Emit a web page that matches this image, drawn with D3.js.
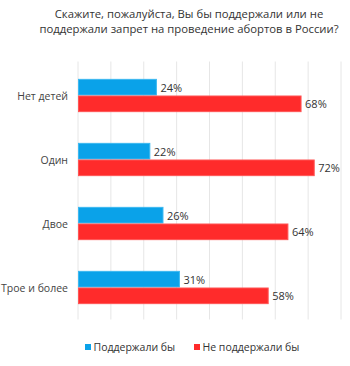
<!DOCTYPE html>
<html>
<head>
<meta charset="utf-8">
<script src="https://cdn.jsdelivr.net/npm/d3@7"></script>
<style>
  html, body { margin: 0; padding: 0; background: #fff; }
  svg { display: block; font-family: "Open Sans", "Noto Sans", sans-serif; }
</style>
</head>
<body>
<svg id="chart" width="350" height="366"></svg>
<script>
const titleLines = [
  "Скажите, пожалуйста, Вы бы поддержали или не",
  "поддержали запрет на проведение абортов в России?"
];
const categories = ["Нет детей", "Один", "Двое", "Трое и более"];
const seriesNames = ["Поддержали бы", "Не поддержали бы"];
const support = [24, 22, 26, 31];
const oppose = [68, 72, 64, 58];
const colors = ["#0aa2e9", "#ff2b2b"];
const strokes = ["#3cb8f0", "#ff5555"];
const gridTicks = [0, 10, 20, 30, 40, 50, 60, 70, 80];

const svg = d3.select("#chart");
const margin = { top: 63.5, left: 78, right: 9, bottom: 46.5 };
const W = 350, H = 366;

const x = d3.scaleLinear().domain([0, 80]).range([margin.left, W - margin.right]);
const y = d3.scaleBand().domain(categories).range([margin.top, H - margin.bottom]).paddingInner(0.48).paddingOuter(0.24);
const sub = d3.scaleBand().domain(seriesNames).range([0, y.bandwidth()]);

// Title
svg.append("g").selectAll("text").data(titleLines).join("text")
  .attr("x", 189).attr("y", (d, i) => 18 + i * 14.5)
  .attr("text-anchor", "middle")
  .attr("font-size", 11.3).attr("fill", "#333")
  .text(d => d);

// Vertical grid lines
svg.append("g").selectAll("line").data(gridTicks).join("line")
  .attr("x1", d => x(d)).attr("x2", d => x(d))
  .attr("y1", margin.top - 2).attr("y2", H - margin.bottom)
  .attr("stroke", "#e6e6e6").attr("stroke-width", 1);

// Category labels
svg.append("g").selectAll("text").data(categories).join("text")
  .attr("x", margin.left - 10)
  .attr("y", d => y(d) + y.bandwidth() / 2 + 4)
  .attr("text-anchor", "end")
  .attr("font-size", 10.5).attr("fill", "#444")
  .text(d => d);

const rows = categories.map((c, i) => ({ c, vals: [support[i], oppose[i]] }));

const groups = svg.append("g").selectAll("g").data(rows).join("g")
  .attr("transform", d => `translate(0,${y(d.c)})`);

groups.selectAll("rect").data(d => d.vals.map((v, k) => ({ v, k }))).join("rect")
  .attr("x", x(0) + 0.5)
  .attr("y", d => sub(seriesNames[d.k]) + 0.5)
  .attr("width", d => x(d.v) - x(0) - 1)
  .attr("height", sub.bandwidth() - 1)
  .attr("fill", d => colors[d.k])
  .attr("stroke", d => strokes[d.k]).attr("stroke-width", 1);

groups.selectAll("text").data(d => d.vals.map((v, k) => ({ v, k }))).join("text")
  .attr("x", d => x(d.v) + 3.5)
  .attr("y", d => sub(seriesNames[d.k]) + sub.bandwidth() / 2 + 4.5)
  .attr("font-size", 11).attr("fill", "#333")
  .text(d => d.v + "%");

// Legend
const legendX = [85, 194];
const legend = svg.append("g").selectAll("g").data(seriesNames).join("g")
  .attr("transform", (d, i) => `translate(${legendX[i]},344)`);
legend.append("rect").attr("width", 6).attr("height", 6)
  .attr("fill", (d, i) => colors[i]);
legend.append("text").attr("x", 8.5).attr("y", 7)
  .attr("font-size", 10.5).attr("fill", "#333")
  .text(d => d);
</script>
</body>
</html>
